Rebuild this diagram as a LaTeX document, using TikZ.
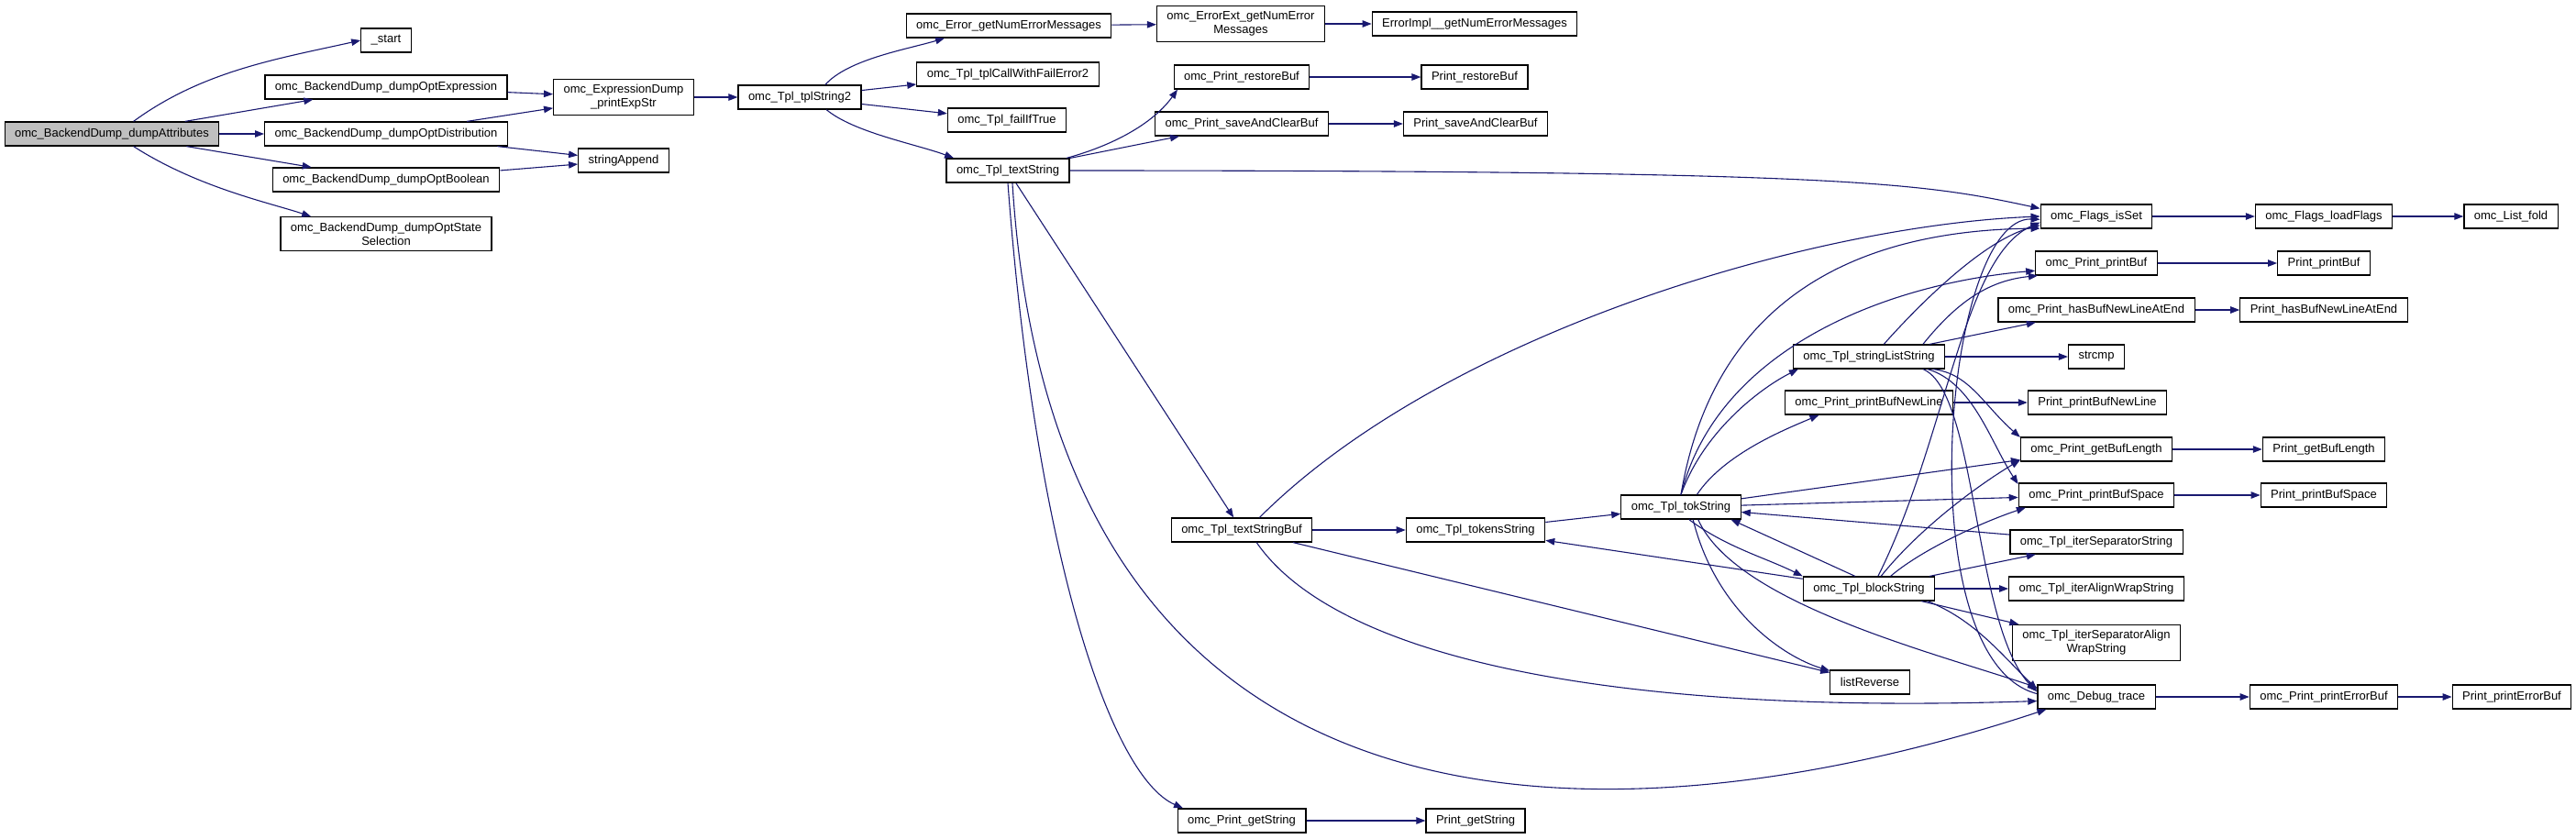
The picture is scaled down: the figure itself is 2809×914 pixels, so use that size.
\documentclass[tikz,border=0pt]{standalone}
\usepackage{fontspec}
\setmainfont{Liberation Sans}
\usetikzlibrary{arrows.meta}
\definecolor{edgeblue}{RGB}{25,25,112}

\begin{document}
\begin{tikzpicture}[x=1pt, y=-1pt]
        \tikzstyle{func} = [rectangle, draw=black, line width=1.2pt, fill=white, minimum height=26pt, inner xsep=11pt, inner ysep=6pt, align=center, font=\fontsize{13}{15}\selectfont]
        \tikzstyle{rootfunc} = [func, fill=black!25]
        \tikzstyle{arrow} = [draw=edgeblue, line width=1.1pt, -{Triangle[length=10pt,width=7.5pt]}]

        \useasboundingbox (0,0) rectangle (2809,914);

        \node (dumpAttr) [rootfunc] at (122,146) {omc\_BackendDump\_dumpAttributes};
        \node (start) [func] at (421,44) {\_start};
        \node (optExpr) [func] at (421,95) {omc\_BackendDump\_dumpOptExpression};
        \node (optDistr) [func] at (421,146) {omc\_BackendDump\_dumpOptDistribution};
        \node (optBool) [func] at (421,196) {omc\_BackendDump\_dumpOptBoolean};
        \node (optState) [func] at (421,255) {omc\_BackendDump\_dumpOptState\\Selection};
        \node (printExpStr) [func] at (680,106) {omc\_ExpressionDump\\\_printExpStr};
        \node (strAppend) [func] at (680,175) {stringAppend};
        \node (tplString2) [func] at (872,106) {omc\_Tpl\_tplString2};
        \node (errGetNum) [func] at (1100,28) {omc\_Error\_getNumErrorMessages};
        \node (tplCallFail) [func] at (1099,81) {omc\_Tpl\_tplCallWithFailError2};
        \node (failIfTrue) [func] at (1098,131) {omc\_Tpl\_failIfTrue};
        \node (textString) [func] at (1099,186) {omc\_Tpl\_textString};
        \node (errExtGetNum) [func] at (1353,26) {omc\_ErrorExt\_getNumError\\Messages};
        \node (errImplGetNum) [func] at (1608,26) {ErrorImpl\_\_getNumErrorMessages};
        \node (restoreBuf) [func] at (1354,84) {omc\_Print\_restoreBuf};
        \node (cRestoreBuf) [func] at (1608,84) {Print\_restoreBuf};
        \node (saveClear) [func] at (1354,135) {omc\_Print\_saveAndClearBuf};
        \node (cSaveClear) [func] at (1609,135) {Print\_saveAndClearBuf};
        \node (textStringBuf) [func] at (1354,578) {omc\_Tpl\_textStringBuf};
        \node (tokensString) [func] at (1609,578) {omc\_Tpl\_tokensString};
        \node (getString) [func] at (1354,895) {omc\_Print\_getString};
        \node (cGetString) [func] at (1609,895) {Print\_getString};
        \node (tokString) [func] at (1833,553) {omc\_Tpl\_tokString};
        \node (strListString) [func] at (2038,389) {omc\_Tpl\_stringListString};
        \node (bufNewLine) [func] at (2038,439) {omc\_Print\_printBufNewLine};
        \node (blockString) [func] at (2038,642) {omc\_Tpl\_blockString};
        \node (listReverse) [func] at (2039,744) {listReverse};
        \node (isSet) [func] at (2286,236) {omc\_Flags\_isSet};
        \node (printBuf) [func] at (2286,287) {omc\_Print\_printBuf};
        \node (hasBufNL) [func] at (2286,338) {omc\_Print\_hasBufNewLineAtEnd};
        \node (strcmp) [func] at (2286,389) {strcmp};
        \node (cBufNewLine) [func] at (2287,439) {Print\_printBufNewLine};
        \node (getBufLen) [func] at (2286,490) {omc\_Print\_getBufLength};
        \node (bufSpace) [func] at (2286,540) {omc\_Print\_printBufSpace};
        \node (iterSep) [func] at (2286,591) {omc\_Tpl\_iterSeparatorString};
        \node (iterAlign) [func] at (2286,642) {omc\_Tpl\_iterAlignWrapString};
        \node (iterSepAlign) [func] at (2286,701) {omc\_Tpl\_iterSeparatorAlign\\WrapString};
        \node (debugTrace) [func] at (2286,760) {omc\_Debug\_trace};
        \node (loadFlags) [func] at (2534,236) {omc\_Flags\_loadFlags};
        \node (cPrintBuf) [func] at (2534,287) {Print\_printBuf};
        \node (cHasBufNL) [func] at (2534,338) {Print\_hasBufNewLineAtEnd};
        \node (cGetBufLen) [func] at (2534,490) {Print\_getBufLength};
        \node (cBufSpace) [func] at (2534,540) {Print\_printBufSpace};
        \node (errorBuf) [func] at (2534,760) {omc\_Print\_printErrorBuf};
        \node (listFold) [func] at (2738,236) {omc\_List\_fold};
        \node (cErrorBuf) [func] at (2739,760) {Print\_printErrorBuf};

        % root and first callees
        \draw [arrow] (dumpAttr.30) .. controls +(75,-55) and +(-90,20) .. (start.west);
        \draw [arrow] (dumpAttr) -- (optExpr);
        \draw [arrow] (dumpAttr) -- (optDistr);
        \draw [arrow] (dumpAttr) -- (optBool);
        \draw [arrow] (dumpAttr.330) .. controls +(70,45) and +(-45,-15) .. (optState.167);
        \draw [arrow] (optExpr) -- (printExpStr);
        \draw [arrow] (optDistr) -- (printExpStr);
        \draw [arrow] (optDistr) -- (strAppend);
        \draw [arrow] (optBool) -- (strAppend);
        \draw [arrow] (printExpStr) -- (tplString2);

        % tplString2 and textString
        \draw [arrow] (tplString2.26) .. controls +(25,-28) and +(-40,12) .. (errGetNum.191);
        \draw [arrow] (tplString2) -- (tplCallFail);
        \draw [arrow] (tplString2) -- (failIfTrue);
        \draw [arrow] (tplString2.335) .. controls +(30,25) and +(-40,-15) .. (textString.167);
        \draw [arrow] (errGetNum) -- (errExtGetNum);
        \draw [arrow] (errExtGetNum) -- (errImplGetNum);
        \draw [arrow] (textString.12) .. controls +(55,-15) and +(-25,35) .. (restoreBuf.191);
        \draw [arrow] (textString) -- (saveClear);
        \draw [arrow] (restoreBuf) -- (cRestoreBuf);
        \draw [arrow] (saveClear) -- (cSaveClear);
        \draw [arrow] (textString.east) .. controls +(850,0) and +(-130,-28) .. (isSet.172);
        \draw [arrow] (textString) -- (textStringBuf);
        \draw [arrow] (textString.290) .. controls +(50,800) and +(-387,128) .. (debugTrace.194);
        \draw [arrow] (textString.south) .. controls +(30,400) and +(-80,-35) .. (getString.168);
        \draw [arrow] (getString) -- (cGetString);

        % textStringBuf
        \draw [arrow] (textStringBuf) -- (tokensString);
        \draw [arrow] (textStringBuf.35) .. controls +(200,-200) and +(-250,10) .. (isSet.west);
        \draw [arrow] (textStringBuf) -- (listReverse);
        \draw [arrow] (textStringBuf.320) .. controls +(90,130) and +(-450,15) .. (debugTrace.184);
        \draw [arrow] (tokensString) -- (tokString);

        % tokString
        \draw [arrow] (tokString.north) .. controls +(35,-210) and +(-205,2) .. (isSet.192);
        \draw [arrow] (tokString.north) .. controls +(40,-160) and +(-160,14) .. (printBuf.187);
        \draw [arrow] (tokString.north) .. controls +(25,-70) and +(-40,20) .. (strListString.190);
        \draw [arrow] (tokString.38) .. controls +(30,-45) and +(-35,15) .. (bufNewLine.194);
        \draw [arrow] (tokString) -- (getBufLen);
        \draw [arrow] (tokString) -- (bufSpace);
        \draw [arrow] (tokString.303) .. controls +(40,30) and +(-40,-20) .. (blockString.north west);
        \draw [arrow] (tokString.314) .. controls +(25,100) and +(-50,-15) .. (listReverse.164);
        \draw [arrow] (tokString.324) .. controls +(40,90) and +(-120,-40) .. (debugTrace.171);

        % stringListString
        \draw [arrow] (strListString.40) .. controls +(40,-45) and +(-60,15) .. (isSet.189);
        \draw [arrow] (strListString.13) .. controls +(40,-50) and +(-50,5) .. (printBuf.192);
        \draw [arrow] (strListString) -- (hasBufNL);
        \draw [arrow] (strListString) -- (strcmp);
        \draw [arrow] (strListString.349) .. controls +(40,5) and +(-40,-35) .. (getBufLen.171);
        \draw [arrow] (strListString.348) .. controls +(50,15) and +(-30,-45) .. (bufSpace.172);
        \draw [arrow] (strListString.347) .. controls +(60,25) and +(-70,-70) .. (debugTrace.175);

        % blockString
        \draw [arrow] (blockString.138) -- (tokString.346);
        \draw [arrow] (blockString) -- (tokensString);
        \draw [arrow] (blockString.54) .. controls +(75,-150) and +(-85,37) .. (isSet.186);
        \draw [arrow] (blockString.46) .. controls +(40,-50) and +(-50,30) .. (getBufLen.188);
        \draw [arrow] (blockString.30) .. controls +(35,-30) and +(-45,15) .. (bufSpace.190);
        \draw [arrow] (blockString) -- (iterSep);
        \draw [arrow] (blockString) -- (iterAlign);
        \draw [arrow] (blockString) -- (iterSepAlign);
        \draw [arrow] (blockString.348) .. controls +(50,20) and +(-40,-40) .. (debugTrace.173);
        \draw [arrow] (iterSep) -- (tokString);

        % leaf calls
        \draw [arrow] (debugTrace.177) .. controls +(-143,-37) and +(-105,-3) .. (isSet.183);
        \draw [arrow] (isSet) -- (loadFlags);
        \draw [arrow] (loadFlags) -- (listFold);
        \draw [arrow] (printBuf) -- (cPrintBuf);
        \draw [arrow] (hasBufNL) -- (cHasBufNL);
        \draw [arrow] (bufNewLine) -- (cBufNewLine);
        \draw [arrow] (getBufLen) -- (cGetBufLen);
        \draw [arrow] (bufSpace) -- (cBufSpace);
        \draw [arrow] (debugTrace) -- (errorBuf);
        \draw [arrow] (errorBuf) -- (cErrorBuf);
    \end{tikzpicture}
\end{document}
